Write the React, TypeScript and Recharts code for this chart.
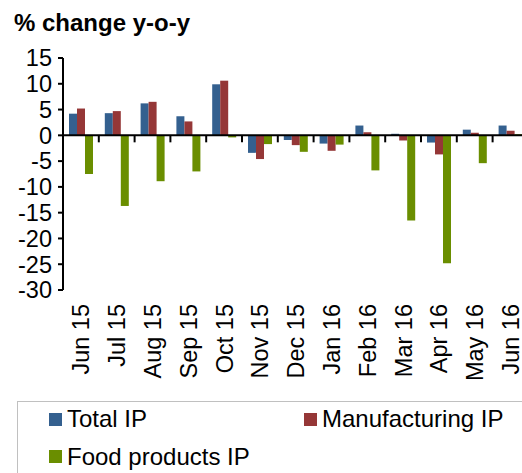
import { BarChart, Bar, XAxis, YAxis, ReferenceLine } from 'recharts';

const months = [
  'Jun 15', 'Jul 15', 'Aug 15', 'Sep 15', 'Oct 15', 'Nov 15', 'Dec 15',
  'Jan 16', 'Feb 16', 'Mar 16', 'Apr 16', 'May 16', 'Jun 16',
];
const totalIP = [4.2, 4.3, 6.2, 3.7, 9.9, -3.4, -0.9, -1.6, 1.9, 0.3, -1.4, 1.1, 1.9];
const manufacturingIP = [5.2, 4.7, 6.5, 2.7, 10.6, -4.6, -1.9, -3.0, 0.6, -1.0, -3.7, 0.5, 0.9];
const foodIP = [-7.5, -13.7, -8.9, -7.0, -0.4, -1.7, -3.2, -1.8, -6.8, -16.5, -24.8, -5.4, 0.2];
const yTicks = [15, 10, 5, 0, -5, -10, -15, -20, -25, -30];

const series = [
  { key: 'total', name: 'Total IP', color: '#34608F' },
  { key: 'manufacturing', name: 'Manufacturing IP', color: '#953737' },
  { key: 'food', name: 'Food products IP', color: '#6A8E00' },
];

const data = months.map((month, i) => ({
  month,
  total: totalIP[i],
  manufacturing: manufacturingIP[i],
  food: foodIP[i],
}));

const FONT = '"Liberation Sans", Arial, sans-serif';

// zero line with Excel-style tick marks between categories
function ZeroAxis(props: any) {
  const { x1, y1, x2 } = props;
  const step = (x2 - x1) / months.length;
  return (
    <g>
      <line x1={x1} y1={y1} x2={x2} y2={y1} stroke="#000" strokeWidth={2} />
      {months.map((m, i) => (
        <line key={m} x1={x1 + i * step} y1={y1} x2={x1 + i * step} y2={y1 + 7} stroke="#000" strokeWidth={2} />
      ))}
    </g>
  );
}

function MonthTick({ x, y, payload }: any) {
  return (
    <text
      x={x}
      y={y + 14}
      dy="0.36em"
      transform={`rotate(-90, ${x}, ${y + 14})`}
      textAnchor="end"
      fontSize={23.5}
      fontFamily={FONT}
      fill="#000"
    >
      {payload.value}
    </text>
  );
}

export default function App() {
  return (
    <div style={{ position: 'fixed', left: 0, top: 0, width: 522, height: 473, overflow: 'hidden', fontFamily: FONT, background: '#fff' }}>
      <div style={{ position: 'absolute', left: 14, top: 10.7, fontSize: 24, lineHeight: '24px', fontWeight: 'bold', whiteSpace: 'nowrap' }}>
        % change y-o-y
      </div>

      <div style={{ position: 'absolute', left: 0, top: 0 }}>
        <BarChart
          width={540}
          height={473}
          data={data}
          margin={{ top: 58, right: 11.6, left: 8, bottom: 83 }}
          barGap={0}
          barSize={8}
        >
          <XAxis
            dataKey="month"
            height={100}
            axisLine={false}
            tickLine={false}
            tickSize={0}
            tickMargin={0}
            interval={0}
            tick={<MonthTick />}
          />
          <YAxis
            width={55}
            domain={[-30, 15]}
            ticks={yTicks}
            interval={0}
            axisLine={{ stroke: '#000', strokeWidth: 2 }}
            tickLine={{ stroke: '#000', strokeWidth: 2 }}
            tickSize={5}
            tickMargin={6}
            tick={{ fontSize: 23.5, fill: '#000', fontFamily: FONT }}
          />
          {series.map(s => (
            <Bar key={s.key} dataKey={s.key} name={s.name} fill={s.color} isAnimationActive={false} />
          ))}
          <ReferenceLine y={0} shape={<ZeroAxis />} />
        </BarChart>
      </div>

      <div style={{ position: 'absolute', left: 17, top: 400.7, width: 530, height: 100, border: '1.5px solid #c0c0c0', boxSizing: 'border-box' }} />
      {series.map((s, i) => (
        <div
          key={s.key}
          style={{
            position: 'absolute',
            left: 49 + (i % 2) * 255,
            top: 407 + Math.floor(i / 2) * 37.7,
            display: 'flex',
            alignItems: 'center',
            fontSize: 24,
            lineHeight: '24px',
            whiteSpace: 'nowrap',
          }}
        >
          <span style={{ width: 13, height: 13, background: s.color, marginRight: 5, display: 'inline-block' }} />
          {s.name}
        </div>
      ))}
    </div>
  );
}
